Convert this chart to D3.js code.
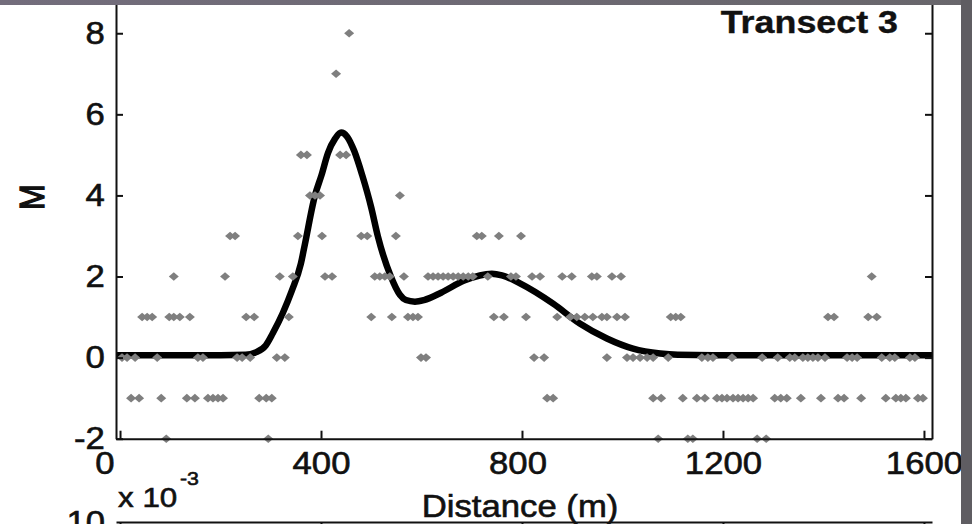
<!DOCTYPE html>
<html>
<head>
<meta charset="utf-8">
<script src="https://cdn.jsdelivr.net/npm/d3@7"></script>
<style>
  body { margin: 0; background: #fff; }
  svg { display: block; font-family: "Liberation Sans", Arial, sans-serif; }
</style>
</head>
<body>
<div id="graph"></div>
<script>
// smoothed M profile along the transect
var curveDist = [-8, 100, 200, 250, 270, 290, 304, 324, 342, 360,
                 368, 388, 401, 414, 428, 440, 452, 466, 482, 500,
                 513, 539, 557, 569, 587, 605, 639, 685, 740, 760,
                 796, 862, 915, 969, 1021, 1075, 1110, 1200, 1400, 1616];
var curveM = [0.06, 0.06, 0.06, 0.07, 0.13, 0.3, 0.6, 1.1, 1.65, 2.32,
              2.8, 4.0, 4.5, 5.05, 5.4, 5.55, 5.45, 5.1, 4.5, 3.7,
              3.0, 2.0, 1.55, 1.42, 1.38, 1.42, 1.6, 1.9, 2.07, 2.03,
              1.83, 1.33, 0.84, 0.47, 0.22, 0.1, 0.07, 0.06, 0.06, 0.06];

// observed M values, one list of distances per level
var distM8 = [456];
var distM7 = [430];
var distM5 = [360, 372, 438, 450];
var distM4 = [378, 388, 398, 557];
var distM3 = [219, 229, 354, 402, 480, 492, 549, 710, 720, 754, 798];
var distM2 = [107, 209, 318, 344, 408, 422, 507, 517, 527, 537, 565,
              613, 623, 633, 643, 653, 663, 673, 683, 693, 702, 732,
              778, 788, 820, 836, 880, 899, 939, 949, 979, 997, 1496];
var distM1 = [44, 54, 64, 98, 107, 119, 139, 251, 267, 336, 500, 541,
              573, 583, 593, 744, 764, 808, 870, 896, 909, 925, 941,
              959, 969, 989, 1005, 1096, 1106, 1116, 1409, 1421, 1489, 1506];
var distM0 = [4, 14, 30, 74, 155, 165, 233, 243, 259, 312, 328, 599, 609,
              824, 844, 969, 1009, 1021, 1035, 1049, 1061, 1091, 1158, 1170,
              1180, 1218, 1278, 1309, 1333, 1343, 1359, 1369, 1379, 1389,
              1403, 1447, 1457, 1467, 1516, 1532, 1542, 1572, 1582];
var distMm1 = [22, 38, 82, 133, 149, 175, 185, 195, 205, 277, 291, 302,
               850, 862, 1061, 1077, 1120, 1148, 1164, 1188, 1198, 1208,
               1220, 1230, 1240, 1250, 1260, 1303, 1315, 1327, 1355, 1395,
               1429, 1441, 1475, 1524, 1544, 1554, 1564, 1588, 1598];
var distMm2 = [92, 295, 1071, 1130, 1140, 1268, 1286];

var levels = [8, 7, 5, 4, 3, 2, 1, 0, -1, -2];
var levelDists = [distM8, distM7, distM5, distM4, distM3, distM2, distM1, distM0, distMm1, distMm2];

var xTicks = [0, 400, 800, 1200, 1600];
var yTicks = [-2, 0, 2, 4, 6, 8];

var width = 972, height = 524, stretch = 1.12;

var svg = d3.select('#graph').append('svg')
    .attr('width', width)
    .attr('height', height);

var x = d3.scaleLinear().domain([-8, 1616]).range([116, 932]);
var y = d3.scaleLinear().domain([-2, 8.82]).range([438.7, 0]);

var points = [];
levels.forEach(function(m, i) {
  levelDists[i].forEach(function(d) { points.push({d: d, m: m}); });
});

// curve
var line = d3.line()
    .x(function(d) { return x(d[0]); })
    .y(function(d) { return y(d[1]); })
    .curve(d3.curveMonotoneX);

svg.append('path')
    .datum(d3.zip(curveDist, curveM))
    .attr('d', line)
    .attr('fill', 'none')
    .attr('stroke', '#000')
    .attr('stroke-width', 6.5)
    .attr('stroke-linejoin', 'round');

// scatter markers: small diamonds, a bit wider than tall
var marker = 'M-5,0L0,-4.3L5,0L0,4.3Z';
svg.append('g').selectAll('path')
    .data(points)
  .enter().append('path')
    .attr('d', marker)
    .attr('transform', function(d) { return 'translate(' + x(d.d) + ',' + y(d.m) + ')'; })
    .attr('fill', '#7f7f7f');

function styleAxis(g) {
  g.selectAll('path, line').attr('stroke', '#111').attr('stroke-width', 2);
  g.selectAll('text')
      .attr('fill', '#111')
      .attr('stroke', '#111')
      .attr('stroke-width', 0.6)
      .style('font-size', '31px');
}

var gy = svg.append('g')
    .attr('transform', 'translate(116,0)')
    .call(d3.axisLeft(y).tickValues(yTicks).tickSizeInner(-7).tickSizeOuter(0)
      .tickPadding(10).tickFormat(String));
styleAxis(gy);
gy.selectAll('text').attr('transform', 'scale(' + stretch + ',1)');

var gr = svg.append('g')
    .attr('transform', 'translate(932,0)')
    .call(d3.axisRight(y).tickValues(yTicks).tickSizeInner(-7).tickSizeOuter(0)
      .tickFormat(''));
styleAxis(gr);

var gx = svg.append('g')
    .attr('transform', 'translate(0,' + y(-2) + ')')
    .call(d3.axisBottom(x).tickValues(xTicks).tickSizeInner(-8).tickSizeOuter(0)
      .tickPadding(13).tickFormat(String));
styleAxis(gx);
gx.selectAll('text')
    .attr('transform', 'scale(' + stretch + ',1)')
    .attr('dx', function(d) { return d === 0 ? -14 : (d === 800 ? -4 : 0); });

// top edge of the panel below
var gx2 = svg.append('g')
    .attr('transform', 'translate(0,522)')
    .call(d3.axisTop(x).tickValues(xTicks).tickSizeInner(-7).tickSizeOuter(0)
      .tickFormat(''));
styleAxis(gx2);

function label(px, py, str, size, weight, anchor) {
  return svg.append('text')
      .attr('transform', 'translate(' + px + ',' + py + ') scale(' + stretch + ',1)')
      .attr('text-anchor', anchor)
      .attr('fill', '#111')
      .attr('stroke', '#111')
      .attr('stroke-width', weight === 'bold' ? 0.4 : 0.6)
      .style('font-size', size + 'px')
      .style('font-weight', weight)
      .text(str);
}

label(898, 33, 'Transect 3', 32, 'bold', 'end');
label(520, 517, 'Distance (m)', 31, 'normal', 'middle');
label(118, 507, 'x 10', 28, 'normal', 'start');
label(180, 485, '-3', 19, 'normal', 'start');
label(105, 533, '10', 31, 'normal', 'end');

svg.append('text')
    .attr('transform', 'translate(31,197) scale(' + stretch + ',1) rotate(-90)')
    .attr('text-anchor', 'middle')
    .attr('dy', '0.36em')
    .attr('fill', '#111')
    .attr('stroke', '#111')
    .attr('stroke-width', 1.2)
    .style('font-size', '31px')
    .text('M');

// slide frame
var grad = svg.append('defs').append('linearGradient').attr('id', 'topband');
grad.append('stop').attr('offset', '0%').attr('stop-color', '#736d7c');
grad.append('stop').attr('offset', '100%').attr('stop-color', '#68666b');
svg.append('rect').attr('x', 0).attr('y', 0).attr('width', width).attr('height', 5)
    .attr('fill', 'url(#topband)');
svg.append('rect').attr('x', 961).attr('y', 0).attr('width', 11).attr('height', height)
    .attr('fill', '#5f5d62');
</script>
</body>
</html>
